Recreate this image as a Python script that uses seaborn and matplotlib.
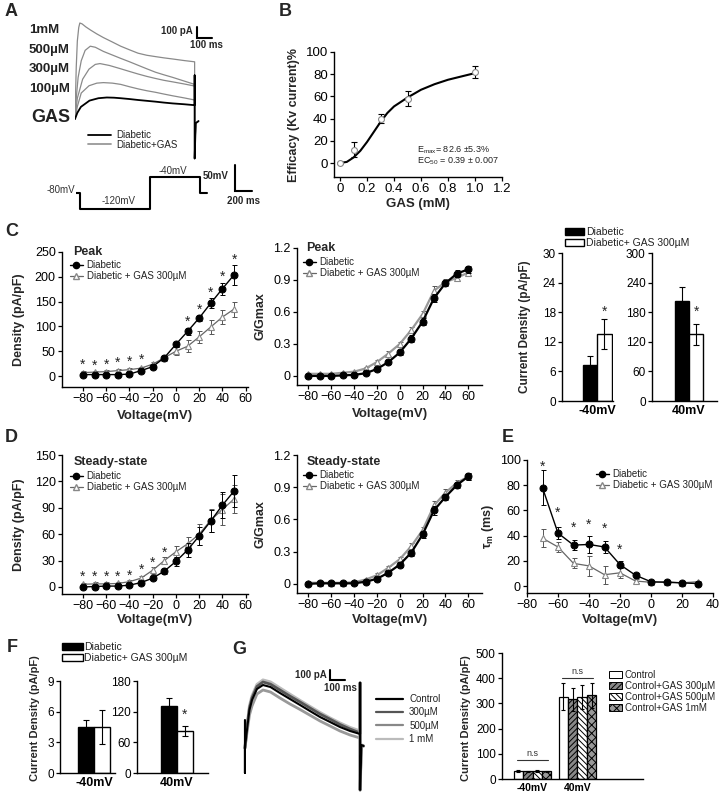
import numpy as np
import pandas as pd
import matplotlib
matplotlib.use('Agg')
import matplotlib.pyplot as plt
import seaborn as sns
from matplotlib.lines import Line2D
from matplotlib.patches import Patch

# ---------------- data ----------------
# A: Kv current traces (time ms, current pA)
a_t_1mm = [0, 3, 8, 15, 24, 31, 45, 70, 100, 140, 182, 240, 293, 350, 404, 460, 516, 570, 627, 700, 767]
a_i_1mm = [0, 200, 500, 750, 880, 923, 915, 885, 855, 818, 783, 740, 700, 665, 633, 613, 600, 588, 577, 562, 550]
a_t_500 = [0, 8, 20, 40, 65, 98, 130, 182, 240, 293, 350, 404, 460, 516, 570, 627, 700, 767]
a_i_500 = [0, 200, 400, 560, 660, 700, 690, 650, 615, 583, 550, 517, 483, 450, 425, 400, 365, 333]
a_t_300 = [0, 15, 49, 90, 130, 160, 220, 293, 350, 404, 460, 516, 570, 627, 700, 767]
a_i_300 = [0, 200, 383, 480, 525, 533, 515, 483, 457, 433, 410, 390, 372, 357, 337, 317]
a_t_100 = [0, 15, 40, 90, 140, 182, 240, 293, 350, 404, 460, 516, 570, 627, 700, 767]
a_i_100 = [0, 120, 250, 320, 345, 350, 345, 333, 310, 290, 272, 257, 240, 223, 203, 183]
a_t_gas = [0, 15, 38, 93, 150, 204, 250, 293, 350, 404, 460, 516, 570, 627, 700, 767]
a_i_gas = [0, 60, 117, 177, 200, 207, 205, 200, 192, 183, 175, 167, 158, 150, 142, 133]
a_tail_t = [767, 767, 774, 792]
a_tail_i = [420, -380, -40, -20]
a_labels = ['1mM', '500µM', '300µM', '100µM']

# A: voltage protocol
prot_t = [0, 50, 50, 890, 890, 1490, 1490, 1580]
prot_v = [-80, -80, -120, -120, -40, -40, -80, -80]

# B: dose response
gas_conc = [0, 0.1, 0.3, 0.5, 1.0]
efficacy = [0, 12, 40, 58, 82]
efficacy_err = [1, 7, 4, 7, 5]
fit_x = [0, 0.05, 0.1, 0.15, 0.2, 0.25, 0.3, 0.35, 0.4, 0.5, 0.6, 0.7, 0.8, 0.9, 1.0]
fit_y = [0, 1, 5, 11, 19, 28, 37, 45, 51, 59, 66, 71, 75, 78, 81]

# C/D: I-V and G-V
volt_iv = [-80, -70, -60, -50, -40, -30, -20, -10, 0, 10, 20, 30, 40, 50]
peak_diab = [3, 3, 3, 3, 4, 11, 19, 37, 64, 90, 117, 147, 176, 204]
peak_diab_err = [2, 2, 2, 2, 2, 2, 3, 4, 5, 7, 6, 10, 12, 20]
peak_gas = [7, 8, 9, 11, 13, 16, 24, 37, 50, 60, 79, 99, 119, 135]
peak_gas_err = [3, 3, 3, 3, 3, 3, 4, 5, 8, 12, 12, 14, 14, 15]
peak_star_v = [-80, -70, -60, -50, -40, -30, 10, 20, 30, 40, 50]
peak_star_y = [22, 20, 22, 27, 29, 33, 109, 133, 167, 200, 235]

ss_diab = [0, 0.5, 1, 1, 2, 5, 10, 18, 29, 42, 58, 75, 93, 109]
ss_diab_err = [1, 1, 1, 1, 1, 1.5, 2, 3, 5, 8, 10, 13, 15, 18]
ss_gas = [3, 3.5, 3.5, 4, 6, 10, 19, 30, 40, 49, 60, 76, 88, 100]
ss_gas_err = [2, 2, 2, 2, 2, 3, 4, 4, 6, 8, 12, 13, 18, 16]
ss_star_v = [-80, -70, -60, -50, -40, -30, -20, -10]
ss_star_y = [12, 12, 12, 12, 13, 19, 28, 39]

volt_g = [-80, -70, -60, -50, -40, -30, -20, -10, 0, 10, 20, 30, 40, 50, 60]
gpeak_diab = [0, 0, 0, 0.005, 0.01, 0.025, 0.065, 0.13, 0.22, 0.35, 0.51, 0.73, 0.87, 0.96, 1.0]
gpeak_gas = [0.02, 0.02, 0.02, 0.03, 0.04, 0.07, 0.13, 0.21, 0.30, 0.43, 0.58, 0.80, 0.88, 0.92, 0.97]
gss_diab = [0, 0.005, 0.005, 0.005, 0.005, 0.02, 0.047, 0.104, 0.18, 0.29, 0.46, 0.685, 0.81, 0.92, 1.0]
gss_gas = [0.01, 0.01, 0.01, 0.01, 0.015, 0.04, 0.08, 0.15, 0.23, 0.35, 0.5, 0.73, 0.85, 0.94, 1.0]
g_err = [0.01, 0.01, 0.01, 0.01, 0.01, 0.01, 0.02, 0.02, 0.02, 0.03, 0.03, 0.04, 0.03, 0.03, 0.03]

# E: activation time constant
tau_v = [-70, -60, -50, -40, -30, -20, -10, 0, 10, 20, 30]
tau_diab = [78, 42, 32.5, 33, 31, 17, 8.6, 3.4, 3, 2.5, 2]
tau_diab_err = [14, 5, 4, 7, 5, 3, 2, 1, 1, 1, 1]
tau_gas = [38, 31, 18, 16, 9, 10.5, 4, 3, 3.4, 2.6, 3.4]
tau_gas_err = [7, 4, 4, 8, 7, 4, 1.5, 1, 1, 1, 1]
tau_star_v = [-70, -60, -50, -40, -30, -20]
tau_star_y = [95, 58, 46, 49, 45.5, 29]

# C right / F: bar charts
dia_cond = ['Diabetic', 'Diabetic+ GAS 300µM']
cr_m40 = [7.2, 13.6]
cr_m40_err = [2.0, 3.0]
cr_p40 = [203, 135]
cr_p40_err = [29, 22]
f_m40 = [4.5, 4.5]
f_m40_err = [0.7, 1.7]
f_p40 = [131, 82]
f_p40_err = [15, 10]

# G: control traces and bars
g_t = [0, 0, 0, 15, 30, 47, 80, 120, 170, 233, 300, 367, 433, 500, 567, 633, 700, 767]
g_ctrl = [280, -250, 0, 200, 380, 480, 590, 630, 610, 550, 490, 430, 370, 310, 260, 210, 170, 140]
g_300 = [0, 0, 0, 220, 400, 500, 615, 660, 638, 580, 518, 460, 400, 340, 288, 235, 190, 150]
g_500 = [0, 0, 0, 170, 330, 420, 540, 580, 560, 500, 440, 385, 328, 270, 220, 170, 130, 100]
g_1mm = [0, 0, 0, 230, 420, 520, 635, 680, 660, 600, 537, 475, 415, 355, 300, 250, 205, 170]
g_tail_t = [767, 767, 775, 790]
g_tail_i = [650, -420, 30, 20]
g_trace_labels = ['Control', '300µM', '500µM', '1 mM']

ctrl_cond = ['Control', 'Control+GAS 300µM', 'Control+GAS 500µM', 'Control+GAS 1mM']
g_m40 = [33, 30, 31, 30]
g_m40_err = [4, 3, 4, 3]
g_p40 = [327, 316, 327, 332]
g_p40_err = [55, 45, 48, 50]

# ---------------- style ----------------
sns.set_theme(style='ticks')
plt.rcParams['font.family'] = ['Liberation Sans', 'DejaVu Sans']
plt.rcParams['mathtext.default'] = 'regular'
plt.rcParams['hatch.linewidth'] = 0.7

W, H = 720, 793
fig = plt.figure(figsize=(W / 100, H / 100), dpi=100)


def box(l, t, r, b):
    return fig.add_axes([l / W, 1 - b / H, (r - l) / W, (b - t) / H])


def ftxt(x, y, s, **kw):
    fig.text(x / W, 1 - y / H, s, **kw)


def prism(ax, size=9):
    sns.despine(ax=ax)
    for sp in ['left', 'bottom']:
        ax.spines[sp].set_linewidth(1.0)
        ax.spines[sp].set_color('black')
    ax.tick_params(direction='out', length=3, width=0.9, labelsize=size, pad=1.5,
                   colors='black')
    ax.set_facecolor('none')


def labels(ax, xl, yl, ypx, xpy=None, size=9, ymid=None):
    pos = ax.get_position()
    ax.set_ylabel(yl, fontsize=size, fontweight='bold')
    yc = 0.5 if ymid is None else ((1 - ymid / H) - pos.y0) / pos.height
    ax.yaxis.set_label_coords((ypx / W - pos.x0) / pos.width, yc)
    if xl:
        ax.set_xlabel(xl, fontsize=9.5, fontweight='bold')
        ax.xaxis.set_label_coords(0.5, ((1 - xpy / H) - pos.y0) / pos.height)


def legend_px(ax, handles, names, x, y, **kw):
    opts = dict(loc='upper left', bbox_to_anchor=(x / W, 1 - y / H),
                bbox_transform=fig.transFigure, frameon=False, fontsize=7,
                borderpad=0, borderaxespad=0, labelspacing=0.15,
                handletextpad=0.4, handlelength=1.3)
    opts.update(kw)
    lg = ax.legend(handles, names, **opts)
    for t in lg.get_texts():
        t.set_color('#222')
    return lg


h_diab = Line2D([], [], color='black', marker='o', ms=4.5, lw=1)
h_gas = Line2D([], [], color='#666', marker='^', ms=5, mfc='white', mec='#888', lw=0.9)
iv_names = ['Diabetic', 'Diabetic + GAS 300µM']

# ---------------- A ----------------
ftxt(5, 12, 'A', fontsize=13, fontweight='bold', va='center')
axA = box(75, 15, 250, 165)
axA.axis('off')
axA.set_xlim(0, 1122)
axA.set_ylim(-442, 1000)
for t, i in [(a_t_1mm, a_i_1mm), (a_t_500, a_i_500), (a_t_300, a_i_300), (a_t_100, a_i_100)]:
    sns.lineplot(x=t + a_tail_t, y=i + a_tail_i, ax=axA, color='#8a8a8a', lw=0.9,
                 sort=False, estimator=None)
sns.lineplot(x=a_t_gas + a_tail_t, y=a_i_gas + a_tail_i, ax=axA, color='black', lw=1.3,
             sort=False, estimator=None)
# scale bar 100 pA / 100 ms
axA.plot([780, 780, 880], [880, 780, 780], color='black', lw=1.5, solid_joinstyle='miter')
ftxt(193, 31, '100 pA', fontsize=7, fontweight='bold', ha='right', va='center')
ftxt(206, 45, '100 ms', fontsize=7, fontweight='bold', ha='center', va='center')
for lab, y in zip(a_labels, [30, 50, 69, 89]):
    ftxt(29, y, lab, fontsize=9.5, fontweight='bold', va='center', color='#222')
ftxt(31, 118, 'GAS', fontsize=13, fontweight='bold', va='center', color='#222')
legend_px(axA, [Line2D([], [], color='black', lw=1.3), Line2D([], [], color='#999', lw=1.3)],
          ['Diabetic', 'Diabetic+GAS'], 88, 130, handlelength=2.4, labelspacing=-0.05,
          handletextpad=0.5)

axP = box(76, 160, 255, 220)
axP.axis('off')
axP.set_xlim(0, 2151)
axP.set_ylim(-146.5, 1.3)
sns.lineplot(x=prot_t, y=prot_v, ax=axP, color='black', lw=1.5, sort=False, estimator=None)
axP.plot([1911, 1911, 2111], [-12, -75, -75], color='black', lw=1.5, solid_joinstyle='miter')
ftxt(75, 190, '-80mV', fontsize=7, ha='right', va='center', color='#333')
ftxt(119, 201, '-120mV', fontsize=7, ha='center', va='center', color='#333')
ftxt(173, 171, '-40mV', fontsize=7, ha='center', va='center', color='#333')
ftxt(229, 176, '50mV', fontsize=7, fontweight='bold', ha='right', va='center')
ftxt(243, 201, '200 ms', fontsize=7, fontweight='bold', ha='center', va='center')

# ---------------- B ----------------
ftxt(279, 11, 'B', fontsize=13, fontweight='bold', va='center')
axB = box(334, 52, 502, 177)
prism(axB, 9.5)
sns.lineplot(x=fit_x, y=fit_y, ax=axB, color='black', lw=1.5)
axB.errorbar(gas_conc, efficacy, yerr=efficacy_err, fmt='none', ecolor='black',
             elinewidth=0.8, capsize=2, capthick=0.8)
sns.scatterplot(x=gas_conc, y=efficacy, ax=axB, color='white', edgecolor='#888',
                s=18, linewidth=0.8, zorder=4)
axB.set_xlim(-0.045, 1.2)
axB.set_ylim(-12.6, 100)
axB.set_xticks([0, 0.2, 0.4, 0.6, 0.8, 1.0, 1.2])
axB.set_xticklabels(['0', '0.2', '0.4', '0.6', '0.8', '1.0', '1.2'])
axB.set_yticks([0, 20, 40, 60, 80, 100])
labels(axB, 'GAS (mM)', 'Efficacy (Kv current)%', 300, 198, size=9)
ftxt(417, 150, r'E$_{max}$= 82.6 ±5.3%', fontsize=6.5, va='center', color='#222')
ftxt(417, 161, r'EC$_{50}$ = 0.39 ± 0.007', fontsize=6.5, va='center', color='#222')


# ---------------- I-V helper ----------------
def iv_panel(ax, v, d, de, g, ge, lw_d=1.0, lw_g=0.9, gcol='#666'):
    ax.errorbar(v, g, yerr=ge, fmt='none', ecolor='#555', elinewidth=0.7, capsize=1.8,
                capthick=0.7, zorder=2)
    sns.lineplot(x=v, y=g, ax=ax, color=gcol, lw=lw_g, marker='^', markersize=5,
                 markerfacecolor='white', markeredgecolor='#888', markeredgewidth=0.8, zorder=3)
    ax.errorbar(v, d, yerr=de, fmt='none', ecolor='black', elinewidth=0.7, capsize=1.8,
                capthick=0.7, zorder=4)
    sns.lineplot(x=v, y=d, ax=ax, color='black', lw=lw_d, marker='o', markersize=5,
                 markeredgecolor='black', zorder=5)


def stars(ax, xs, ys, size=10):
    for x, y in zip(xs, ys):
        ax.text(x, y, '*', ha='center', va='center', fontsize=size, color='#222')


# ---------------- C ----------------
ftxt(5, 232, 'C', fontsize=13, fontweight='bold', va='center')
axC1 = box(62, 252, 248, 387)
prism(axC1)
iv_panel(axC1, volt_iv, peak_diab, peak_diab_err, peak_gas, peak_gas_err)
stars(axC1, peak_star_v, peak_star_y)
axC1.set_xlim(-98, 62)
axC1.set_ylim(-22, 250)
axC1.set_xticks(range(-80, 61, 20))
axC1.set_yticks(range(0, 251, 50))
labels(axC1, 'Voltage(mV)', 'Density (pA/pF)', 25, 410)
axC1.text(0.06, 1.0, 'Peak', transform=axC1.transAxes, fontsize=9, fontweight='bold',
          va='center')
legend_px(axC1, [h_diab, h_gas], iv_names, 70, 260)

axC2 = box(297, 248, 482, 385)
prism(axC2)
iv_panel(axC2, volt_g, gpeak_diab, g_err, gpeak_gas, g_err, lw_d=1.6, lw_g=1.6, gcol='#999')
axC2.set_xlim(-90, 72)
axC2.set_ylim(-0.085, 1.2)
axC2.set_xticks(range(-80, 61, 20))
axC2.set_yticks([0, 0.3, 0.6, 0.9, 1.2])
axC2.set_yticklabels(['0', '0.3', '0.6', '0.9', '1.2'])
labels(axC2, 'Voltage(mV)', 'G/Gmax', 266, 408)
axC2.text(0.05, 1.0, 'Peak', transform=axC2.transAxes, fontsize=9, fontweight='bold',
          va='center')
legend_px(axC2, [h_diab, h_gas], iv_names, 303, 257)


# ---------------- bar helper ----------------
def bar_pair(ax, grp, vals, errs, xlim, ylim, yticks, star_y=None):
    df = pd.DataFrame({'grp': [grp] * len(vals), 'cond': dia_cond, 'val': vals})
    sns.barplot(data=df, x='grp', y='val', hue='cond', palette=['black', 'white'],
                edgecolor='black', linewidth=1, width=0.8, errorbar=None, legend=False, ax=ax)
    for cont, e in zip(ax.containers, errs):
        for b in cont:
            ax.errorbar(b.get_x() + b.get_width() / 2, b.get_height(), yerr=e, fmt='none',
                        ecolor='black', elinewidth=0.8, capsize=2, capthick=0.8)
            if star_y is not None and cont is ax.containers[1]:
                ax.text(b.get_x() + b.get_width() / 2, star_y, '*', ha='center', va='center',
                        fontsize=10)
    prism(ax, 8.5)
    ax.set_xlim(*xlim)
    ax.set_ylim(*ylim)
    ax.set_yticks(yticks)
    ax.tick_params(axis='x', length=0, labelsize=9, pad=3)
    for t in ax.get_xticklabels():
        t.set_fontweight('bold')
    ax.set_xlabel('')
    ax.set_ylabel('')


axC3 = box(562, 253, 613, 401)
bar_pair(axC3, '-40mV', cr_m40, cr_m40_err, (-0.97, 0.44), (0, 30), range(0, 31, 6), 18)
labels(axC3, None, 'Current Density (pA/pF)', 531, size=8.5)
axC4 = box(652, 253, 717, 401)
bar_pair(axC4, '40mV', cr_p40, cr_p40_err, (-1.06, 0.8), (0, 300), range(0, 301, 60), 180)
legend_px(axC4, [Patch(facecolor='black', edgecolor='black'),
                 Patch(facecolor='white', edgecolor='black')],
          dia_cond, 565, 227, fontsize=7.5, handlelength=1.8, handletextpad=0.2,
          labelspacing=0.1)

# ---------------- D ----------------
ftxt(5, 437, 'D', fontsize=13, fontweight='bold', va='center')
axD1 = box(62, 455, 248, 594)
prism(axD1)
iv_panel(axD1, volt_iv, ss_diab, ss_diab_err, ss_gas, ss_gas_err)
stars(axD1, ss_star_v, ss_star_y)
axD1.set_xlim(-98, 62)
axD1.set_ylim(-8, 150)
axD1.set_xticks(range(-80, 61, 20))
axD1.set_yticks(range(0, 151, 30))
labels(axD1, 'Voltage(mV)', 'Density (pA/pF)', 25, 614)
axD1.text(0.06, 0.95, 'Steady-state', transform=axD1.transAxes, fontsize=9,
          fontweight='bold', va='center')
legend_px(axD1, [h_diab, h_gas], iv_names, 70, 471)

axD2 = box(297, 455, 482, 593)
prism(axD2)
iv_panel(axD2, volt_g, gss_diab, g_err, gss_gas, g_err, lw_d=1.6, lw_g=1.6, gcol='#999')
axD2.set_xlim(-90, 72)
axD2.set_ylim(-0.085, 1.2)
axD2.set_xticks(range(-80, 61, 20))
axD2.set_yticks([0, 0.3, 0.6, 0.9, 1.2])
axD2.set_yticklabels(['0', '0.3', '0.6', '0.9', '1.2'])
labels(axD2, 'Voltage(mV)', 'G/Gmax', 266, 614)
axD2.text(0.05, 0.95, 'Steady-state', transform=axD2.transAxes, fontsize=9,
          fontweight='bold', va='center')
legend_px(axD2, [h_diab, h_gas], iv_names, 303, 470)

# ---------------- E ----------------
ftxt(502, 437, 'E', fontsize=13, fontweight='bold', va='center')
axE = box(527, 460, 713, 593)
prism(axE)
iv_panel(axE, tau_v, tau_diab, tau_diab_err, tau_gas, tau_gas_err)
stars(axE, tau_star_v, tau_star_y)
axE.set_xlim(-80, 40)
axE.set_ylim(-5.5, 100)
axE.set_xticks(range(-80, 41, 20))
axE.set_yticks(range(0, 101, 20))
labels(axE, 'Voltage(mV)', 'τ$_{m}$ (ms)', 496, 614)
legend_px(axE, [h_diab, h_gas], iv_names, 596, 469)

# ---------------- F ----------------
ftxt(7, 647, 'F', fontsize=13, fontweight='bold', va='center')
axF1 = box(60, 681, 115, 773)
bar_pair(axF1, '-40mV', f_m40, f_m40_err, (-0.85, 0.52), (0, 9), [0, 3, 6, 9])
labels(axF1, None, 'Current Density (pA/pF)', 40, size=8, ymid=718)
axF2 = box(137, 681, 208, 773)
bar_pair(axF2, '40mV', f_p40, f_p40_err, (-1.0, 0.78), (0, 180), [0, 60, 120, 180], 114)
legend_px(axF2, [Patch(facecolor='black', edgecolor='black'),
                 Patch(facecolor='white', edgecolor='black')],
          dia_cond, 62, 642, fontsize=7.5, handlelength=2.0, handletextpad=0.1,
          labelspacing=0.1)

# ---------------- G ----------------
ftxt(232, 650, 'G', fontsize=13, fontweight='bold', va='center')
axG1 = box(240, 650, 370, 793)
axG1.axis('off')
axG1.set_xlim(-33, 833)
axG1.set_ylim(-450, 980)
g_cols = ['black', '#555', '#888', '#bbb']
for vals, c, lw in [(g_1mm, '#bbb', 2.2), (g_300, '#555', 2.0), (g_500, '#999', 2.0),
                    (g_ctrl, 'black', 1.5)]:
    sns.lineplot(x=g_t + g_tail_t, y=vals + g_tail_i, ax=axG1, color=c, lw=lw,
                 sort=False, estimator=None)
axG1.plot([567, 567, 667], [780, 680, 680], color='black', lw=1.5, solid_joinstyle='miter')
ftxt(327, 675, '100 pA', fontsize=7, fontweight='bold', ha='right', va='center')
ftxt(340, 688, '100 ms', fontsize=7, fontweight='bold', ha='center', va='center')
legend_px(axG1, [Line2D([], [], color=c, lw=1.6) for c in g_cols], g_trace_labels,
          376, 694, handlelength=2.8, labelspacing=0.35, handletextpad=0.6)

axG2 = box(502, 653, 643, 779)
gdf = pd.DataFrame({'grp': ['-40mV'] * 4 + ['40mV'] * 4, 'cond': ctrl_cond * 2,
                    'val': g_m40 + g_p40})
sns.barplot(data=gdf, x='grp', y='val', hue='cond', palette=['white', '#888', 'white', '#999'],
            edgecolor='black', linewidth=0.9, width=0.84, errorbar=None, legend=False, ax=axG2)
hatches = ['', '//////', '\\\\\\\\\\\\', 'xxxx']
g_errs = list(zip(g_m40_err, g_p40_err))
for cont, hatch, errs in zip(axG2.containers, hatches, g_errs):
    for b, e in zip(cont, errs):
        b.set_hatch(hatch)
        axG2.errorbar(b.get_x() + b.get_width() / 2, b.get_height(), yerr=e, fmt='none',
                      ecolor='black', elinewidth=0.8, capsize=1.5, capthick=0.8)
prism(axG2, 8.5)
axG2.set_xlim(-0.68, 2.46)
axG2.set_ylim(0, 500)
axG2.set_yticks(range(0, 501, 100))
axG2.tick_params(axis='x', length=0, labelsize=7.5, pad=3)
for t in axG2.get_xticklabels():
    t.set_fontweight('bold')
axG2.set_xlabel('')
labels(axG2, None, 'Current Density (pA/pF)', 471, size=8, ymid=718)
for x0, x1, y in [(-0.35, 0.35, 76), (0.65, 1.35, 400)]:
    axG2.plot([x0, x1], [y, y], color='#333', lw=0.8)
    axG2.text((x0 + x1) / 2, y + 8, 'n.s', ha='center', va='bottom', fontsize=6.5,
              color='#333')
legend_px(axG2, [Patch(facecolor=fc, edgecolor='black', hatch=h, lw=0.7)
                 for fc, h in zip(['white', '#888', 'white', '#999'], hatches)],
          ctrl_cond, 609, 670, handlelength=1.3, handleheight=0.8, labelspacing=0.1,
          handletextpad=0.3)

fig.savefig('out.png', dpi=100)
